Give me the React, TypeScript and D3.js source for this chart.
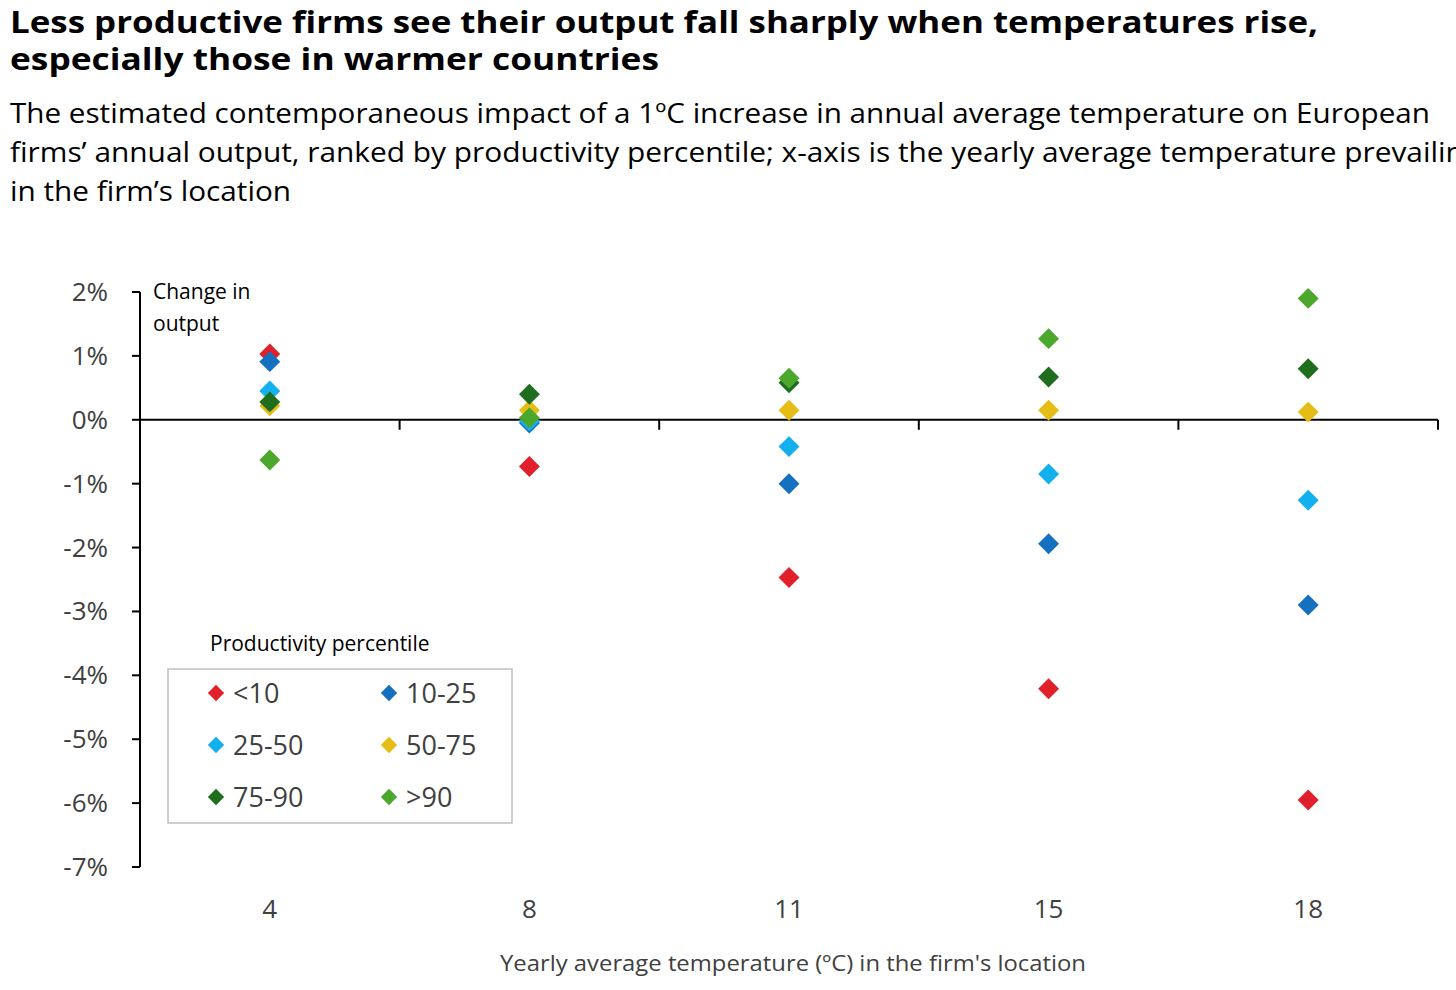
import { useEffect, useRef } from 'react';
import * as d3 from 'd3';

const temps = ['4', '8', '11', '15', '18'];
const seriesNames = ['<10', '10-25', '25-50', '50-75', '75-90', '>90'];
const seriesColors = ['#e0202a', '#1670c0', '#13b0ee', '#e5bd14', '#1e6e1e', '#4ca82c'];
// values in % per temperature, series order as above
const lt10 = [1.03, -0.73, -2.47, -4.21, -5.95];
const p10_25 = [0.91, -0.05, -1.0, -1.94, -2.9];
const p25_50 = [0.45, -0.02, -0.42, -0.85, -1.26];
const p50_75 = [0.22, 0.15, 0.15, 0.15, 0.12];
const p75_90 = [0.28, 0.4, 0.58, 0.67, 0.8];
const gt90 = [-0.63, 0.03, 0.65, 1.27, 1.9];
const yTicks = [2, 1, 0, -1, -2, -3, -4, -5, -6, -7];

const allSeries = [lt10, p10_25, p25_50, p50_75, p75_90, gt90];
const FONT = '"Open Sans", "Noto Sans", sans-serif';

export default function App() {
  const ref = useRef<SVGSVGElement>(null);

  useEffect(() => {
    const svg = d3.select(ref.current);
    svg.selectAll('*').remove();

    const left = 140, right = 1438, top = 292, bottom = 867;
    const x = d3.scaleBand().domain(temps).range([left, right]);
    const y = d3.scaleLinear().domain([-7, 2]).range([bottom, top]);

    // title + subtitle (widths matched to the reference)
    const title = [
      ['Less productive firms see their output fall sharply when temperatures rise,', 1308],
      ['especially those in warmer countries', 649],
    ] as const;
    title.forEach(([t, w], i) =>
      svg.append('text').attr('x', 10).attr('y', 33 + i * 37).attr('font-family', FONT)
        .attr('font-weight', 'bold').attr('font-size', 30).attr('fill', '#000')
        .attr('textLength', w).attr('lengthAdjust', 'spacingAndGlyphs').text(t));
    const sub = [
      ['The estimated contemporaneous impact of a 1ºC increase in annual average temperature on European', 1420],
      ['firms’ annual output, ranked by productivity percentile; x-axis is the yearly average temperature prevailing', 1470],
      ['in the firm’s location', 281],
    ] as const;
    sub.forEach(([t, w], i) =>
      svg.append('text').attr('x', 10).attr('y', 123 + i * 39).attr('font-family', FONT)
        .attr('font-size', 27).attr('fill', '#000')
        .attr('textLength', w).attr('lengthAdjust', 'spacingAndGlyphs').text(t));

    // y axis
    svg.append('line').attr('x1', left).attr('x2', left).attr('y1', y(2)).attr('y2', y(-7))
      .attr('stroke', '#000').attr('stroke-width', 2);
    yTicks.forEach((v) => {
      svg.append('line').attr('x1', left - 8).attr('x2', left).attr('y1', y(v)).attr('y2', y(v))
        .attr('stroke', '#000').attr('stroke-width', 2);
      svg.append('text').attr('x', 108).attr('y', y(v) + 9).attr('text-anchor', 'end')
        .attr('font-family', FONT).attr('font-size', 26).attr('fill', '#404040').text(`${v}%`);
    });

    // x axis on zero
    svg.append('line').attr('x1', left).attr('x2', right).attr('y1', y(0)).attr('y2', y(0))
      .attr('stroke', '#000').attr('stroke-width', 2);
    temps.forEach((t) => {
      const bx = (x(t) as number) + x.bandwidth();
      svg.append('line').attr('x1', bx).attr('x2', bx).attr('y1', y(0)).attr('y2', y(0) + 10)
        .attr('stroke', '#000').attr('stroke-width', 2);
      svg.append('text').attr('x', (x(t) as number) + x.bandwidth() / 2).attr('y', 918)
        .attr('text-anchor', 'middle').attr('font-family', FONT).attr('font-size', 26)
        .attr('fill', '#404040').text(t);
    });

    svg.append('text').attr('x', 793).attr('y', 971).attr('text-anchor', 'middle')
      .attr('font-family', FONT).attr('font-size', 22).attr('fill', '#404040')
      .attr('textLength', 586).attr('lengthAdjust', 'spacingAndGlyphs')
      .text('Yearly average temperature (ºC) in the firm\'s location');
    ['Change in', 'output'].forEach((t, i) =>
      svg.append('text').attr('x', 153).attr('y', 299 + i * 32).attr('font-family', FONT)
        .attr('font-size', 21).attr('fill', '#000').text(t));

    const diamond = d3.symbol().type(d3.symbolDiamond2).size(280);

    // points
    allSeries.forEach((vals, si) => {
      svg.append('g').selectAll('path').data(vals).enter().append('path')
        .attr('d', diamond)
        .attr('transform', (d, i) => `translate(${(x(temps[i]) as number) + x.bandwidth() / 2},${y(d)})`)
        .attr('fill', seriesColors[si]);
    });

    // legend
    svg.append('text').attr('x', 210).attr('y', 651).attr('font-family', FONT)
      .attr('font-size', 21).attr('fill', '#000').text('Productivity percentile');
    svg.append('rect').attr('x', 168).attr('y', 669).attr('width', 344).attr('height', 154)
      .attr('fill', '#fff').attr('stroke', '#bfbfbf').attr('stroke-width', 1.5);
    const legDiamond = d3.symbol().type(d3.symbolDiamond2).size(170);
    seriesNames.forEach((n, i) => {
      const lx = 216 + (i % 2) * 173;
      const ly = 693 + Math.floor(i / 2) * 52;
      svg.append('path').attr('d', legDiamond).attr('transform', `translate(${lx},${ly})`)
        .attr('fill', seriesColors[i]);
      svg.append('text').attr('x', lx + 17).attr('y', ly + 10).attr('font-family', FONT)
        .attr('font-size', 27).attr('fill', '#404040').text(n);
    });
  }, []);

  return <svg ref={ref} width={1456} height={990} style={{ position: 'absolute', left: 0, top: 0, background: '#fff' }} />;
}
